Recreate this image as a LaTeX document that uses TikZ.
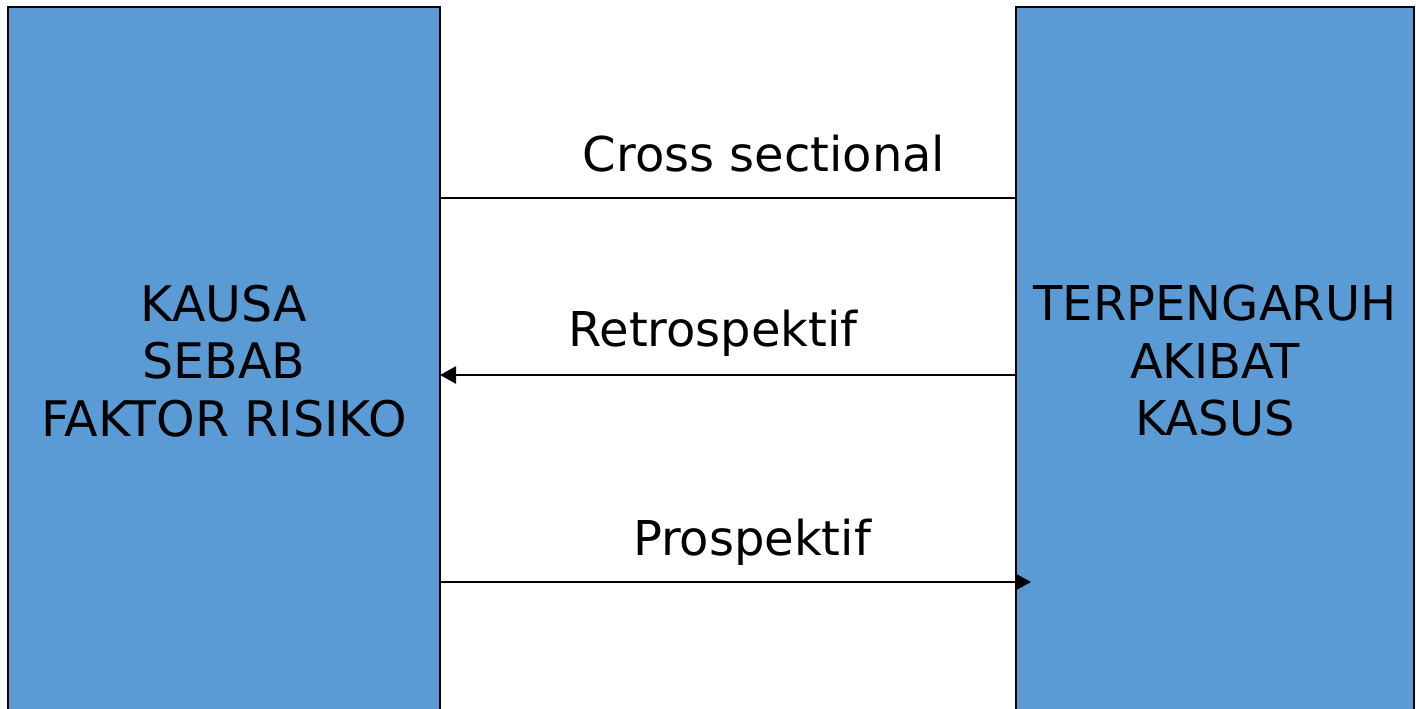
\documentclass[tikz,border=0pt]{standalone}
\usepackage{fontspec}
\setmainfont{DejaVu Sans}
\usetikzlibrary{positioning,arrows.meta}
\definecolor{boxblue}{RGB}{91,155,213}

\begin{document}
\begin{tikzpicture}[x=0.5pt,y=-0.5pt,node distance=495.5pt,on grid,
  box/.style={draw,line width=1.4pt,fill=boxblue,minimum width=216pt,minimum height=354pt,
    inner sep=0pt,outer sep=0pt,align=center,font=\fontsize{24.5}{28.75}\selectfont},
  lbl/.style={anchor=base,inner sep=0pt,font=\fontsize{24}{28.75}\selectfont},
  conn/.style={line width=1.2pt},
  tip/.style={-{Triangle[length=8pt,width=8.5pt]}}]
  \useasboundingbox (0,0) rectangle (1416,708);
  \node[box] (kausa) at (224,361) {KAUSA\\SEBAB\\FAKTOR RISIKO};
  \node[box,minimum width=199pt,font=\fontsize{24}{28.75}\selectfont] (akibat) [right=of kausa] {TERPENGARUH\\AKIBAT\\KASUS};
  % levels of the three lines
  \coordinate (cross) at (0,198);
  \coordinate (retro) at (0,375);
  \coordinate (pros) at (0,582);
  \node[lbl] (crosslbl) at (764,171) {Cross sectional};
  \node[lbl] (retrolbl) at (713,346) {Retrospektif};
  \node[lbl] (proslbl) at (752,555) {Prospektif};
  \draw[conn] (kausa.east |- cross) -- (akibat.west |- cross);
  \draw[conn,tip] (akibat.west |- retro) -- (kausa.east |- retro);
  \draw[conn,tip,shorten >=-7.5pt] (kausa.east |- pros) -- (akibat.west |- pros);
\end{tikzpicture}
\end{document}
